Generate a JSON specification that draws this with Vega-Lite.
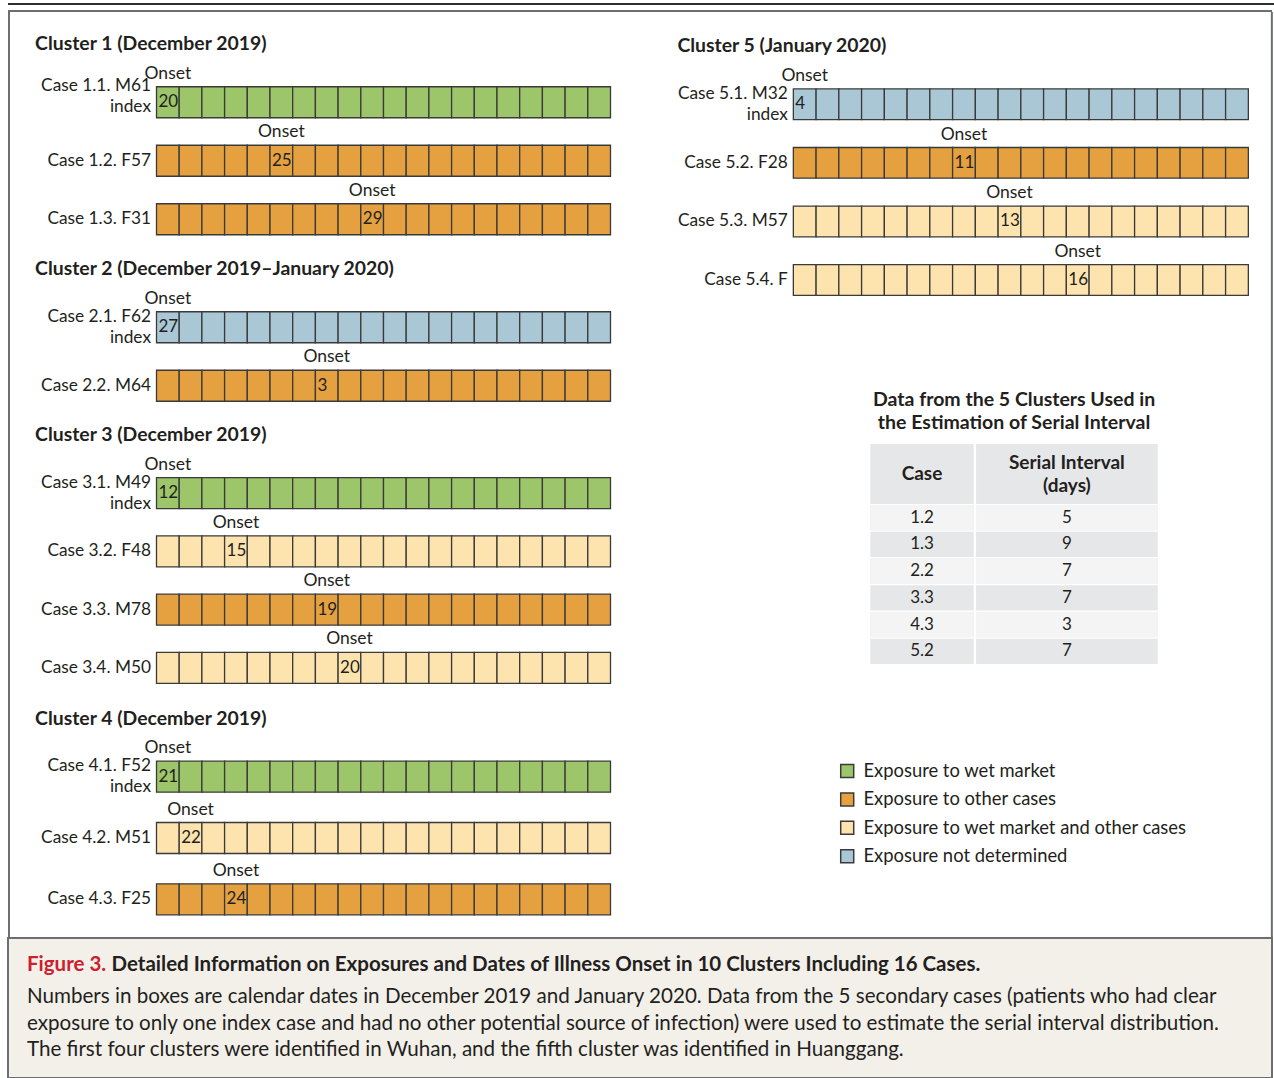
{
"$schema": "https://vega.github.io/schema/vega-lite/v6.json",
"padding": {"left": 7, "top": 3, "right": 0, "bottom": 0},
"background": "white",
"config": {
  "font": "Lato",
  "view": {"stroke": null},
  "text": {"font": "Lato", "color": "#231f20"},
  "title": {"font": "Lato", "color": "#231f20"},
  "axis": {"labelFont": "Lato"},
  "legend": {"labelFont": "Lato"}
},
"datasets": {
  "cases": [
    {"case":"1.1","cluster":1,"label":"Case 1.1. M61\nindex","exposure":"Exposure to wet market","onset_day":0,"onset_date":20},
    {"case":"1.2","cluster":1,"label":"Case 1.2. F57","exposure":"Exposure to other cases","onset_day":5,"onset_date":25},
    {"case":"1.3","cluster":1,"label":"Case 1.3. F31","exposure":"Exposure to other cases","onset_day":9,"onset_date":29},
    {"case":"2.1","cluster":2,"label":"Case 2.1. F62\nindex","exposure":"Exposure not determined","onset_day":0,"onset_date":27},
    {"case":"2.2","cluster":2,"label":"Case 2.2. M64","exposure":"Exposure to other cases","onset_day":7,"onset_date":3},
    {"case":"3.1","cluster":3,"label":"Case 3.1. M49\nindex","exposure":"Exposure to wet market","onset_day":0,"onset_date":12},
    {"case":"3.2","cluster":3,"label":"Case 3.2. F48","exposure":"Exposure to wet market and other cases","onset_day":3,"onset_date":15},
    {"case":"3.3","cluster":3,"label":"Case 3.3. M78","exposure":"Exposure to other cases","onset_day":7,"onset_date":19},
    {"case":"3.4","cluster":3,"label":"Case 3.4. M50","exposure":"Exposure to wet market and other cases","onset_day":8,"onset_date":20},
    {"case":"4.1","cluster":4,"label":"Case 4.1. F52\nindex","exposure":"Exposure to wet market","onset_day":0,"onset_date":21},
    {"case":"4.2","cluster":4,"label":"Case 4.2. M51","exposure":"Exposure to wet market and other cases","onset_day":1,"onset_date":22},
    {"case":"4.3","cluster":4,"label":"Case 4.3. F25","exposure":"Exposure to other cases","onset_day":3,"onset_date":24},
    {"case":"5.1","cluster":5,"label":"Case 5.1. M32\nindex","exposure":"Exposure not determined","onset_day":0,"onset_date":4},
    {"case":"5.2","cluster":5,"label":"Case 5.2. F28","exposure":"Exposure to other cases","onset_day":7,"onset_date":11},
    {"case":"5.3","cluster":5,"label":"Case 5.3. M57","exposure":"Exposure to wet market and other cases","onset_day":9,"onset_date":13},
    {"case":"5.4","cluster":5,"label":"Case 5.4. F","exposure":"Exposure to wet market and other cases","onset_day":12,"onset_date":16}
  ],
  "boxes": [
    {"case":"1.1","day":0},{"case":"1.1","day":1},{"case":"1.1","day":2},{"case":"1.1","day":3},{"case":"1.1","day":4},{"case":"1.1","day":5},{"case":"1.1","day":6},{"case":"1.1","day":7},{"case":"1.1","day":8},{"case":"1.1","day":9},{"case":"1.1","day":10},{"case":"1.1","day":11},{"case":"1.1","day":12},{"case":"1.1","day":13},{"case":"1.1","day":14},{"case":"1.1","day":15},{"case":"1.1","day":16},{"case":"1.1","day":17},{"case":"1.1","day":18},{"case":"1.1","day":19},
    {"case":"1.2","day":0},{"case":"1.2","day":1},{"case":"1.2","day":2},{"case":"1.2","day":3},{"case":"1.2","day":4},{"case":"1.2","day":5},{"case":"1.2","day":6},{"case":"1.2","day":7},{"case":"1.2","day":8},{"case":"1.2","day":9},{"case":"1.2","day":10},{"case":"1.2","day":11},{"case":"1.2","day":12},{"case":"1.2","day":13},{"case":"1.2","day":14},{"case":"1.2","day":15},{"case":"1.2","day":16},{"case":"1.2","day":17},{"case":"1.2","day":18},{"case":"1.2","day":19},
    {"case":"1.3","day":0},{"case":"1.3","day":1},{"case":"1.3","day":2},{"case":"1.3","day":3},{"case":"1.3","day":4},{"case":"1.3","day":5},{"case":"1.3","day":6},{"case":"1.3","day":7},{"case":"1.3","day":8},{"case":"1.3","day":9},{"case":"1.3","day":10},{"case":"1.3","day":11},{"case":"1.3","day":12},{"case":"1.3","day":13},{"case":"1.3","day":14},{"case":"1.3","day":15},{"case":"1.3","day":16},{"case":"1.3","day":17},{"case":"1.3","day":18},{"case":"1.3","day":19},
    {"case":"2.1","day":0},{"case":"2.1","day":1},{"case":"2.1","day":2},{"case":"2.1","day":3},{"case":"2.1","day":4},{"case":"2.1","day":5},{"case":"2.1","day":6},{"case":"2.1","day":7},{"case":"2.1","day":8},{"case":"2.1","day":9},{"case":"2.1","day":10},{"case":"2.1","day":11},{"case":"2.1","day":12},{"case":"2.1","day":13},{"case":"2.1","day":14},{"case":"2.1","day":15},{"case":"2.1","day":16},{"case":"2.1","day":17},{"case":"2.1","day":18},{"case":"2.1","day":19},
    {"case":"2.2","day":0},{"case":"2.2","day":1},{"case":"2.2","day":2},{"case":"2.2","day":3},{"case":"2.2","day":4},{"case":"2.2","day":5},{"case":"2.2","day":6},{"case":"2.2","day":7},{"case":"2.2","day":8},{"case":"2.2","day":9},{"case":"2.2","day":10},{"case":"2.2","day":11},{"case":"2.2","day":12},{"case":"2.2","day":13},{"case":"2.2","day":14},{"case":"2.2","day":15},{"case":"2.2","day":16},{"case":"2.2","day":17},{"case":"2.2","day":18},{"case":"2.2","day":19},
    {"case":"3.1","day":0},{"case":"3.1","day":1},{"case":"3.1","day":2},{"case":"3.1","day":3},{"case":"3.1","day":4},{"case":"3.1","day":5},{"case":"3.1","day":6},{"case":"3.1","day":7},{"case":"3.1","day":8},{"case":"3.1","day":9},{"case":"3.1","day":10},{"case":"3.1","day":11},{"case":"3.1","day":12},{"case":"3.1","day":13},{"case":"3.1","day":14},{"case":"3.1","day":15},{"case":"3.1","day":16},{"case":"3.1","day":17},{"case":"3.1","day":18},{"case":"3.1","day":19},
    {"case":"3.2","day":0},{"case":"3.2","day":1},{"case":"3.2","day":2},{"case":"3.2","day":3},{"case":"3.2","day":4},{"case":"3.2","day":5},{"case":"3.2","day":6},{"case":"3.2","day":7},{"case":"3.2","day":8},{"case":"3.2","day":9},{"case":"3.2","day":10},{"case":"3.2","day":11},{"case":"3.2","day":12},{"case":"3.2","day":13},{"case":"3.2","day":14},{"case":"3.2","day":15},{"case":"3.2","day":16},{"case":"3.2","day":17},{"case":"3.2","day":18},{"case":"3.2","day":19},
    {"case":"3.3","day":0},{"case":"3.3","day":1},{"case":"3.3","day":2},{"case":"3.3","day":3},{"case":"3.3","day":4},{"case":"3.3","day":5},{"case":"3.3","day":6},{"case":"3.3","day":7},{"case":"3.3","day":8},{"case":"3.3","day":9},{"case":"3.3","day":10},{"case":"3.3","day":11},{"case":"3.3","day":12},{"case":"3.3","day":13},{"case":"3.3","day":14},{"case":"3.3","day":15},{"case":"3.3","day":16},{"case":"3.3","day":17},{"case":"3.3","day":18},{"case":"3.3","day":19},
    {"case":"3.4","day":0},{"case":"3.4","day":1},{"case":"3.4","day":2},{"case":"3.4","day":3},{"case":"3.4","day":4},{"case":"3.4","day":5},{"case":"3.4","day":6},{"case":"3.4","day":7},{"case":"3.4","day":8},{"case":"3.4","day":9},{"case":"3.4","day":10},{"case":"3.4","day":11},{"case":"3.4","day":12},{"case":"3.4","day":13},{"case":"3.4","day":14},{"case":"3.4","day":15},{"case":"3.4","day":16},{"case":"3.4","day":17},{"case":"3.4","day":18},{"case":"3.4","day":19},
    {"case":"4.1","day":0},{"case":"4.1","day":1},{"case":"4.1","day":2},{"case":"4.1","day":3},{"case":"4.1","day":4},{"case":"4.1","day":5},{"case":"4.1","day":6},{"case":"4.1","day":7},{"case":"4.1","day":8},{"case":"4.1","day":9},{"case":"4.1","day":10},{"case":"4.1","day":11},{"case":"4.1","day":12},{"case":"4.1","day":13},{"case":"4.1","day":14},{"case":"4.1","day":15},{"case":"4.1","day":16},{"case":"4.1","day":17},{"case":"4.1","day":18},{"case":"4.1","day":19},
    {"case":"4.2","day":0},{"case":"4.2","day":1},{"case":"4.2","day":2},{"case":"4.2","day":3},{"case":"4.2","day":4},{"case":"4.2","day":5},{"case":"4.2","day":6},{"case":"4.2","day":7},{"case":"4.2","day":8},{"case":"4.2","day":9},{"case":"4.2","day":10},{"case":"4.2","day":11},{"case":"4.2","day":12},{"case":"4.2","day":13},{"case":"4.2","day":14},{"case":"4.2","day":15},{"case":"4.2","day":16},{"case":"4.2","day":17},{"case":"4.2","day":18},{"case":"4.2","day":19},
    {"case":"4.3","day":0},{"case":"4.3","day":1},{"case":"4.3","day":2},{"case":"4.3","day":3},{"case":"4.3","day":4},{"case":"4.3","day":5},{"case":"4.3","day":6},{"case":"4.3","day":7},{"case":"4.3","day":8},{"case":"4.3","day":9},{"case":"4.3","day":10},{"case":"4.3","day":11},{"case":"4.3","day":12},{"case":"4.3","day":13},{"case":"4.3","day":14},{"case":"4.3","day":15},{"case":"4.3","day":16},{"case":"4.3","day":17},{"case":"4.3","day":18},{"case":"4.3","day":19},
    {"case":"5.1","day":0},{"case":"5.1","day":1},{"case":"5.1","day":2},{"case":"5.1","day":3},{"case":"5.1","day":4},{"case":"5.1","day":5},{"case":"5.1","day":6},{"case":"5.1","day":7},{"case":"5.1","day":8},{"case":"5.1","day":9},{"case":"5.1","day":10},{"case":"5.1","day":11},{"case":"5.1","day":12},{"case":"5.1","day":13},{"case":"5.1","day":14},{"case":"5.1","day":15},{"case":"5.1","day":16},{"case":"5.1","day":17},{"case":"5.1","day":18},{"case":"5.1","day":19},
    {"case":"5.2","day":0},{"case":"5.2","day":1},{"case":"5.2","day":2},{"case":"5.2","day":3},{"case":"5.2","day":4},{"case":"5.2","day":5},{"case":"5.2","day":6},{"case":"5.2","day":7},{"case":"5.2","day":8},{"case":"5.2","day":9},{"case":"5.2","day":10},{"case":"5.2","day":11},{"case":"5.2","day":12},{"case":"5.2","day":13},{"case":"5.2","day":14},{"case":"5.2","day":15},{"case":"5.2","day":16},{"case":"5.2","day":17},{"case":"5.2","day":18},{"case":"5.2","day":19},
    {"case":"5.3","day":0},{"case":"5.3","day":1},{"case":"5.3","day":2},{"case":"5.3","day":3},{"case":"5.3","day":4},{"case":"5.3","day":5},{"case":"5.3","day":6},{"case":"5.3","day":7},{"case":"5.3","day":8},{"case":"5.3","day":9},{"case":"5.3","day":10},{"case":"5.3","day":11},{"case":"5.3","day":12},{"case":"5.3","day":13},{"case":"5.3","day":14},{"case":"5.3","day":15},{"case":"5.3","day":16},{"case":"5.3","day":17},{"case":"5.3","day":18},{"case":"5.3","day":19},
    {"case":"5.4","day":0},{"case":"5.4","day":1},{"case":"5.4","day":2},{"case":"5.4","day":3},{"case":"5.4","day":4},{"case":"5.4","day":5},{"case":"5.4","day":6},{"case":"5.4","day":7},{"case":"5.4","day":8},{"case":"5.4","day":9},{"case":"5.4","day":10},{"case":"5.4","day":11},{"case":"5.4","day":12},{"case":"5.4","day":13},{"case":"5.4","day":14},{"case":"5.4","day":15},{"case":"5.4","day":16},{"case":"5.4","day":17},{"case":"5.4","day":18},{"case":"5.4","day":19}
  ],
  "serial": [
    {"case":"1.2","interval":5},{"case":"1.3","interval":9},{"case":"2.2","interval":7},
    {"case":"3.3","interval":7},{"case":"4.3","interval":3},{"case":"5.2","interval":7}
  ],
  "caption": [
    {"line":"1","role":"figure","text":"Figure 3."},
    {"line":"1","role":"heading","text":"Detailed Information on Exposures and Dates of Illness Onset in 10 Clusters Including 16 Cases."},
    {"line":"2","role":"body","text":"Numbers in boxes are calendar dates in December 2019 and January 2020. Data from the 5 secondary cases (patients who had clear"},
    {"line":"3","role":"body","text":"exposure to only one index case and had no other potential source of infection) were used to estimate the serial interval distribution."},
    {"line":"4","role":"body","text":"The first four clusters were identified in Wuhan, and the fifth cluster was identified in Huanggang."}
  ]
},
"spacing": 5,
"vconcat": [
  {"width": 1266, "height": 2, "data": {"values": []}, "mark": "rect", "encoding": {}, "view": {"fill": "#2e2e2e"}},
  {"spacing": 0, "vconcat": [
    {"width": 1264, "height": 2, "data": {"values": []}, "mark": "rect", "encoding": {}, "view": {"fill": "#6d6e71"}},
    {"spacing": 24.5, "hconcat": [
      {"width": 2, "height": 925, "data": {"values": []}, "mark": "rect", "encoding": {}, "view": {"fill": "#6d6e71"}},
      {"spacing": 21.35, "hconcat": [
        {"spacing": 65.85, "hconcat": [
          {"spacing": 49, "bounds": "flush", "vconcat": [
            {"width": 1, "height": 11.25, "data": {"values": []}, "mark": "rect", "encoding": {}, "view": {"fill": "transparent"}},
            {"width": 454, "height": 175.5,
             "title": {"text": "Cluster 1 (December 2019)", "anchor": "start", "frame": "bounds", "dx": -5.5, "offset": 10, "fontSize": 19.4, "fontWeight": "bold"},
             "layer": [
               {"data": {"name": "boxes"},
                "transform": [{"lookup": "case", "from": {"data": {"name": "cases"}, "key": "case", "fields": ["cluster", "label", "exposure"]}}, {"filter": "datum.cluster == 1"}],
                "mark": {"type": "rect", "stroke": "#3a3a3a", "strokeWidth": 1.3},
                "encoding": {
                  "x": {"field": "day", "type": "ordinal", "axis": null, "scale": {"type": "band", "domain": [0,1,2,3,4,5,6,7,8,9,10,11,12,13,14,15,16,17,18,19], "paddingInner": 0, "paddingOuter": 0}},
                  "y": {"field": "label", "type": "nominal", "title": null, "scale": {"type": "band", "paddingInner": 0.47, "paddingOuter": 0.235}, "axis": {"domain": false, "ticks": false, "labelPadding": 6, "labelFontSize": 17.3, "labelColor": "#231f20", "labelExpr": "split(datum.label, '\\n')", "labelLineHeight": 21, "labelOffset": {"condition": {"test": "indexof(datum.label, '\\n') >= 0", "value": -16}, "value": 0}, "labelOverlap": false, "labelLimit": 0}},
                  "fill": {"field": "exposure", "type": "nominal", "scale": {"domain": ["Exposure to wet market", "Exposure to other cases", "Exposure to wet market and other cases", "Exposure not determined"], "range": ["#9dc56a", "#e5a040", "#fde3ae", "#aac7d6"]}, "legend": {"title": null, "orient": "none", "legendX": 830, "legendY": 758.8, "symbolType": "square", "symbolSize": 169, "symbolStrokeColor": "#3a3a3a", "symbolStrokeWidth": 1.5, "labelFontSize": 18.4, "labelColor": "#231f20", "labelOffset": 7, "rowPadding": 8.4, "labelLimit": 0, "padding": 0}}
                }},
               {"data": {"name": "cases"}, "transform": [{"filter": "datum.cluster == 1"}],
                "mark": {"type": "text", "text": "Onset", "baseline": "alphabetic", "dy": -8, "fontSize": 17.5},
                "encoding": {"x": {"field": "onset_day", "type": "ordinal"}, "y": {"field": "label", "type": "nominal", "bandPosition": 0}}},
               {"data": {"name": "cases"}, "transform": [{"filter": "datum.cluster == 1"}],
                "mark": {"type": "text", "align": "left", "baseline": "middle", "dx": 2, "fontSize": 17},
                "encoding": {"x": {"field": "onset_day", "type": "ordinal", "bandPosition": 0}, "y": {"field": "label", "type": "nominal"}, "text": {"field": "onset_date"}}}
             ]},
            {"width": 454, "height": 117,
             "title": {"text": "Cluster 2 (December 2019–January 2020)", "anchor": "start", "frame": "bounds", "dx": -5.5, "offset": 10, "fontSize": 19.4, "fontWeight": "bold"},
             "layer": [
               {"data": {"name": "boxes"},
                "transform": [{"lookup": "case", "from": {"data": {"name": "cases"}, "key": "case", "fields": ["cluster", "label", "exposure"]}}, {"filter": "datum.cluster == 2"}],
                "mark": {"type": "rect", "stroke": "#3a3a3a", "strokeWidth": 1.3},
                "encoding": {
                  "x": {"field": "day", "type": "ordinal", "axis": null, "scale": {"type": "band", "domain": [0,1,2,3,4,5,6,7,8,9,10,11,12,13,14,15,16,17,18,19], "paddingInner": 0, "paddingOuter": 0}},
                  "y": {"field": "label", "type": "nominal", "title": null, "scale": {"type": "band", "paddingInner": 0.47, "paddingOuter": 0.235}, "axis": {"domain": false, "ticks": false, "labelPadding": 6, "labelFontSize": 17.3, "labelColor": "#231f20", "labelExpr": "split(datum.label, '\\n')", "labelLineHeight": 21, "labelOffset": {"condition": {"test": "indexof(datum.label, '\\n') >= 0", "value": -10.5}, "value": 0}, "labelOverlap": false, "labelLimit": 0}},
                  "fill": {"field": "exposure", "type": "nominal", "scale": {"domain": ["Exposure to wet market", "Exposure to other cases", "Exposure to wet market and other cases", "Exposure not determined"], "range": ["#9dc56a", "#e5a040", "#fde3ae", "#aac7d6"]}, "legend": {"title": null, "orient": "none", "legendX": 830, "legendY": 758.8, "symbolType": "square", "symbolSize": 169, "symbolStrokeColor": "#3a3a3a", "symbolStrokeWidth": 1.5, "labelFontSize": 18.4, "labelColor": "#231f20", "labelOffset": 7, "rowPadding": 8.4, "labelLimit": 0, "padding": 0}}
                }},
               {"data": {"name": "cases"}, "transform": [{"filter": "datum.cluster == 2"}],
                "mark": {"type": "text", "text": "Onset", "baseline": "alphabetic", "dy": -8, "fontSize": 17.5},
                "encoding": {"x": {"field": "onset_day", "type": "ordinal"}, "y": {"field": "label", "type": "nominal", "bandPosition": 0}}},
               {"data": {"name": "cases"}, "transform": [{"filter": "datum.cluster == 2"}],
                "mark": {"type": "text", "align": "left", "baseline": "middle", "dx": 2, "fontSize": 17},
                "encoding": {"x": {"field": "onset_day", "type": "ordinal", "bandPosition": 0}, "y": {"field": "label", "type": "nominal"}, "text": {"field": "onset_date"}}}
             ]},
            {"width": 454, "height": 233,
             "title": {"text": "Cluster 3 (December 2019)", "anchor": "start", "frame": "bounds", "dx": -5.5, "offset": 10, "fontSize": 19.4, "fontWeight": "bold"},
             "layer": [
               {"data": {"name": "boxes"},
                "transform": [{"lookup": "case", "from": {"data": {"name": "cases"}, "key": "case", "fields": ["cluster", "label", "exposure"]}}, {"filter": "datum.cluster == 3"}],
                "mark": {"type": "rect", "stroke": "#3a3a3a", "strokeWidth": 1.3},
                "encoding": {
                  "x": {"field": "day", "type": "ordinal", "axis": null, "scale": {"type": "band", "domain": [0,1,2,3,4,5,6,7,8,9,10,11,12,13,14,15,16,17,18,19], "paddingInner": 0, "paddingOuter": 0}},
                  "y": {"field": "label", "type": "nominal", "title": null, "scale": {"type": "band", "paddingInner": 0.47, "paddingOuter": 0.235}, "axis": {"domain": false, "ticks": false, "labelPadding": 6, "labelFontSize": 17.3, "labelColor": "#231f20", "labelExpr": "split(datum.label, '\\n')", "labelLineHeight": 21, "labelOffset": {"condition": {"test": "indexof(datum.label, '\\n') >= 0", "value": -10.5}, "value": 0}, "labelOverlap": false, "labelLimit": 0}},
                  "fill": {"field": "exposure", "type": "nominal", "scale": {"domain": ["Exposure to wet market", "Exposure to other cases", "Exposure to wet market and other cases", "Exposure not determined"], "range": ["#9dc56a", "#e5a040", "#fde3ae", "#aac7d6"]}, "legend": {"title": null, "orient": "none", "legendX": 830, "legendY": 758.8, "symbolType": "square", "symbolSize": 169, "symbolStrokeColor": "#3a3a3a", "symbolStrokeWidth": 1.5, "labelFontSize": 18.4, "labelColor": "#231f20", "labelOffset": 7, "rowPadding": 8.4, "labelLimit": 0, "padding": 0}}
                }},
               {"data": {"name": "cases"}, "transform": [{"filter": "datum.cluster == 3"}],
                "mark": {"type": "text", "text": "Onset", "baseline": "alphabetic", "dy": -8, "fontSize": 17.5},
                "encoding": {"x": {"field": "onset_day", "type": "ordinal"}, "y": {"field": "label", "type": "nominal", "bandPosition": 0}}},
               {"data": {"name": "cases"}, "transform": [{"filter": "datum.cluster == 3"}],
                "mark": {"type": "text", "align": "left", "baseline": "middle", "dx": 2, "fontSize": 17},
                "encoding": {"x": {"field": "onset_day", "type": "ordinal", "bandPosition": 0}, "y": {"field": "label", "type": "nominal"}, "text": {"field": "onset_date"}}}
             ]},
            {"width": 454, "height": 184,
             "title": {"text": "Cluster 4 (December 2019)", "anchor": "start", "frame": "bounds", "dx": -5.5, "offset": 10, "fontSize": 19.4, "fontWeight": "bold"},
             "layer": [
               {"data": {"name": "boxes"},
                "transform": [{"lookup": "case", "from": {"data": {"name": "cases"}, "key": "case", "fields": ["cluster", "label", "exposure"]}}, {"filter": "datum.cluster == 4"}],
                "mark": {"type": "rect", "stroke": "#3a3a3a", "strokeWidth": 1.3},
                "encoding": {
                  "x": {"field": "day", "type": "ordinal", "axis": null, "scale": {"type": "band", "domain": [0,1,2,3,4,5,6,7,8,9,10,11,12,13,14,15,16,17,18,19], "paddingInner": 0, "paddingOuter": 0}},
                  "y": {"field": "label", "type": "nominal", "title": null, "scale": {"type": "band", "paddingInner": 0.495, "paddingOuter": 0.2475}, "axis": {"domain": false, "ticks": false, "labelPadding": 6, "labelFontSize": 17.3, "labelColor": "#231f20", "labelExpr": "split(datum.label, '\\n')", "labelLineHeight": 21, "labelOffset": {"condition": {"test": "indexof(datum.label, '\\n') >= 0", "value": -10.5}, "value": 0}, "labelOverlap": false, "labelLimit": 0}},
                  "fill": {"field": "exposure", "type": "nominal", "scale": {"domain": ["Exposure to wet market", "Exposure to other cases", "Exposure to wet market and other cases", "Exposure not determined"], "range": ["#9dc56a", "#e5a040", "#fde3ae", "#aac7d6"]}, "legend": {"title": null, "orient": "none", "legendX": 830, "legendY": 758.8, "symbolType": "square", "symbolSize": 169, "symbolStrokeColor": "#3a3a3a", "symbolStrokeWidth": 1.5, "labelFontSize": 18.4, "labelColor": "#231f20", "labelOffset": 7, "rowPadding": 8.4, "labelLimit": 0, "padding": 0}}
                }},
               {"data": {"name": "cases"}, "transform": [{"filter": "datum.cluster == 4"}],
                "mark": {"type": "text", "text": "Onset", "baseline": "alphabetic", "dy": -8, "fontSize": 17.5},
                "encoding": {"x": {"field": "onset_day", "type": "ordinal"}, "y": {"field": "label", "type": "nominal", "bandPosition": 0}}},
               {"data": {"name": "cases"}, "transform": [{"filter": "datum.cluster == 4"}],
                "mark": {"type": "text", "align": "left", "baseline": "middle", "dx": 2, "fontSize": 17},
                "encoding": {"x": {"field": "onset_day", "type": "ordinal", "bandPosition": 0}, "y": {"field": "label", "type": "nominal"}, "text": {"field": "onset_date"}}}
             ]}
          ]},
          {"spacing": 0, "vconcat": [
            {"width": 1, "height": 22.8, "data": {"values": []}, "mark": "rect", "encoding": {}, "view": {"fill": "transparent"}},
            {"width": 455, "height": 234.3,
             "title": {"text": "Cluster 5 (January 2020)", "anchor": "start", "frame": "bounds", "dx": 0, "offset": 11, "fontSize": 19.4, "fontWeight": "bold"},
             "layer": [
               {"data": {"name": "boxes"},
                "transform": [{"lookup": "case", "from": {"data": {"name": "cases"}, "key": "case", "fields": ["cluster", "label", "exposure"]}}, {"filter": "datum.cluster == 5"}],
                "mark": {"type": "rect", "stroke": "#3a3a3a", "strokeWidth": 1.3},
                "encoding": {
                  "x": {"field": "day", "type": "ordinal", "axis": null, "scale": {"type": "band", "domain": [0,1,2,3,4,5,6,7,8,9,10,11,12,13,14,15,16,17,18,19], "paddingInner": 0, "paddingOuter": 0}},
                  "y": {"field": "label", "type": "nominal", "title": null, "scale": {"type": "band", "paddingInner": 0.476, "paddingOuter": 0.238}, "axis": {"domain": false, "ticks": false, "labelPadding": 6, "labelFontSize": 17.3, "labelColor": "#231f20", "labelExpr": "split(datum.label, '\\n')", "labelLineHeight": 21, "labelOffset": {"condition": {"test": "indexof(datum.label, '\\n') >= 0", "value": -10.5}, "value": 0}, "labelOverlap": false, "labelLimit": 0}},
                  "fill": {"field": "exposure", "type": "nominal", "scale": {"domain": ["Exposure to wet market", "Exposure to other cases", "Exposure to wet market and other cases", "Exposure not determined"], "range": ["#9dc56a", "#e5a040", "#fde3ae", "#aac7d6"]}, "legend": {"title": null, "orient": "none", "legendX": 830, "legendY": 758.8, "symbolType": "square", "symbolSize": 169, "symbolStrokeColor": "#3a3a3a", "symbolStrokeWidth": 1.5, "labelFontSize": 18.4, "labelColor": "#231f20", "labelOffset": 7, "rowPadding": 8.4, "labelLimit": 0, "padding": 0}}
                }},
               {"data": {"name": "cases"}, "transform": [{"filter": "datum.cluster == 5"}],
                "mark": {"type": "text", "text": "Onset", "baseline": "alphabetic", "dy": -8, "fontSize": 17.5},
                "encoding": {"x": {"field": "onset_day", "type": "ordinal"}, "y": {"field": "label", "type": "nominal", "bandPosition": 0}}},
               {"data": {"name": "cases"}, "transform": [{"filter": "datum.cluster == 5"}],
                "mark": {"type": "text", "align": "left", "baseline": "middle", "dx": 2, "fontSize": 17},
                "encoding": {"x": {"field": "onset_day", "type": "ordinal", "bandPosition": 0}, "y": {"field": "label", "type": "nominal"}, "text": {"field": "onset_date"}}}
             ]},
            {"width": 1, "height": 78.9, "data": {"values": []}, "mark": "rect", "encoding": {}, "view": {"fill": "transparent"}},
            {"spacing": 0, "hconcat": [
              {"width": 77, "height": 1, "data": {"values": []}, "mark": "rect", "encoding": {}, "view": {"fill": "transparent"}},
              {"title": {"text": ["Data from the 5 Clusters Used in", "the Estimation of Serial Interval"], "anchor": "middle", "fontSize": 19.5, "fontWeight": "bold", "lineHeight": 23, "offset": 11},
               "spacing": 1, "vconcat": [
                {"spacing": 1.7, "hconcat": [
                  {"width": 103.3, "height": 60, "view": {"fill": "#e6e7e8"}, "data": {"values": [{"header": "Case"}]},
                   "mark": {"type": "text", "fontSize": 19, "fontWeight": "bold"}, "encoding": {"text": {"field": "header"}}},
                  {"width": 181.7, "height": 60, "view": {"fill": "#e6e7e8"}, "data": {"values": [{"header": "Serial Interval\n(days)"}]},
                   "mark": {"type": "text", "fontSize": 19, "fontWeight": "bold", "lineBreak": "\n", "lineHeight": 23, "dy": -11.5}, "encoding": {"text": {"field": "header"}}}
                ]},
                {"spacing": 1.7, "hconcat": [
                  {"width": 103.3, "height": 159, "data": {"name": "serial"},
                   "encoding": {"y": {"field": "case", "type": "nominal", "axis": null, "scale": {"type": "band", "paddingInner": 0.056, "paddingOuter": 0}}},
                   "layer": [
                     {"mark": {"type": "rect", "color": "#e6e7e8"}},
                     {"transform": [{"filter": {"field": "case", "oneOf": ["1.2", "2.2", "4.3"]}}], "mark": {"type": "rect", "color": "#f4f4f5"}},
                     {"mark": {"type": "text", "fontSize": 17}, "encoding": {"text": {"field": "case"}}}
                   ]},
                  {"width": 181.7, "height": 159, "data": {"name": "serial"},
                   "encoding": {"y": {"field": "case", "type": "nominal", "axis": null, "scale": {"type": "band", "paddingInner": 0.056, "paddingOuter": 0}}},
                   "layer": [
                     {"mark": {"type": "rect", "color": "#e6e7e8"}},
                     {"transform": [{"filter": {"field": "case", "oneOf": ["1.2", "2.2", "4.3"]}}], "mark": {"type": "rect", "color": "#f4f4f5"}},
                     {"mark": {"type": "text", "fontSize": 17}, "encoding": {"text": {"field": "interval"}}}
                   ]}
                ]}
              ]}
            ]}
          ]}
        ]},
        {"width": 2, "height": 925, "data": {"values": []}, "mark": "rect", "encoding": {}, "view": {"fill": "#6d6e71"}}
      ]}
    ]},
    {"width": 1264, "height": 140, "view": {"fill": "#f3f0ea", "stroke": "#6d6e71", "strokeWidth": 2},
     "data": {"name": "caption"},
     "encoding": {
       "y": {"field": "line", "type": "ordinal", "axis": null, "scale": {"type": "band", "paddingInner": 0, "paddingOuter": 0.66, "align": 0.57}},
       "x": {"datum": 0, "type": "quantitative", "axis": null, "scale": {"domain": [0, 1]}}
     },
     "layer": [
       {"transform": [{"filter": "datum.role == 'figure'"}], "mark": {"type": "text", "align": "left", "baseline": "middle", "dx": 19, "dy": -5.5, "fontSize": 20.5, "fontWeight": "bold", "color": "#cc1f2f"}, "encoding": {"text": {"field": "text"}}},
       {"transform": [{"filter": "datum.role == 'heading'"}], "mark": {"type": "text", "align": "left", "baseline": "middle", "dx": 103.5, "dy": -5.5, "fontSize": 20.5, "fontWeight": "bold", "color": "#231f20"}, "encoding": {"text": {"field": "text"}}},
       {"transform": [{"filter": "datum.role == 'body'"}], "mark": {"type": "text", "align": "left", "baseline": "middle", "dx": 19, "fontSize": 20.6, "color": "#231f20"}, "encoding": {"text": {"field": "text"}}}
     ]}
  ]}
]
}
